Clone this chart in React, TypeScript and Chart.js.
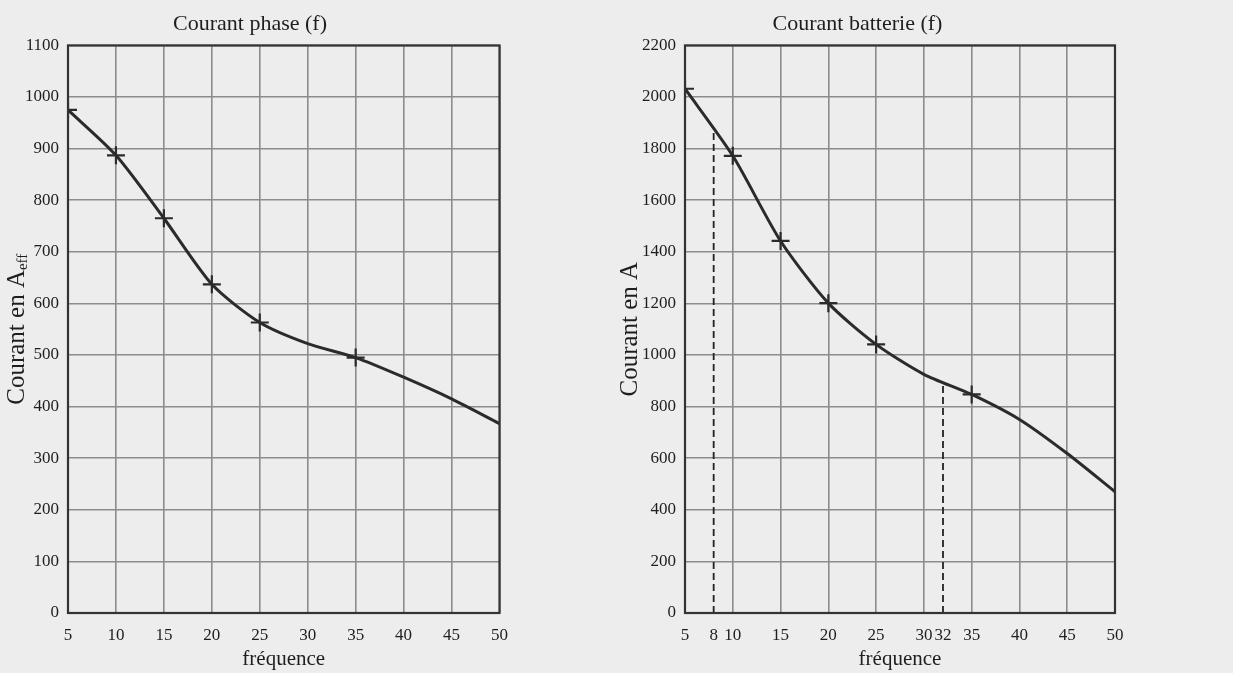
import React, { useEffect, useRef } from "react";
import { Chart, registerables } from "chart.js";
Chart.register(...registerables);

const freqs = [5, 10, 15, 20, 25, 30, 35, 40, 45, 50];
const phaseCurrent = [975, 887, 765, 637, 563, 522, 495, 457, 415, 367];
const batteryCurrent = [2032, 1772, 1442, 1201, 1041, 925, 847, 750, 618, 470];
const markerFreqs = [5, 10, 15, 20, 25, 35];
const phaseYTicks = [0, 100, 200, 300, 400, 500, 600, 700, 800, 900, 1000, 1100];
const batteryYTicks = [0, 200, 400, 600, 800, 1000, 1200, 1400, 1600, 1800, 2000, 2200];
const phaseXTicks = [5, 10, 15, 20, 25, 30, 35, 40, 45, 50];
const batteryXTicks = [5, 8, 10, 15, 20, 25, 30, 32, 35, 40, 45, 50];
const dashFreqs = [8, 32];
const dashCurrents = [1870, 880];

const FONT = "'Liberation Serif', 'DejaVu Serif', serif";
const TEXT = "#1e1e1e";
const GRID = "#8c8c8c";
const LINE = "#2b2b2b";
const BG = "#ededed";

const boxPlugin = {
  id: "box",
  afterDatasetsDraw(chart: any) {
    const { ctx, chartArea: a } = chart;
    ctx.save();
    ctx.strokeStyle = "#333";
    ctx.lineWidth = 2.2;
    ctx.strokeRect(a.left, a.top, a.right - a.left, a.bottom - a.top);
    ctx.restore();
  },
};

const subTitlePlugin = {
  id: "subTitle",
  afterDraw(chart: any, _args: any, opts: any) {
    if (!opts || !opts.main) return;
    const { ctx, chartArea: a } = chart;
    ctx.save();
    const cy = (a.top + a.bottom) / 2;
    ctx.translate(opts.x, cy);
    ctx.rotate(-Math.PI / 2);
    ctx.fillStyle = TEXT;
    ctx.textBaseline = "middle";
    ctx.textAlign = "left";
    const mainFont = `25px ${FONT}`;
    const subFont = `15px ${FONT}`;
    ctx.font = mainFont;
    const w1 = ctx.measureText(opts.main).width;
    ctx.font = subFont;
    const w2 = ctx.measureText(opts.sub).width;
    const start = -(w1 + w2) / 2;
    ctx.font = mainFont;
    ctx.fillText(opts.main, start, 0);
    ctx.font = subFont;
    ctx.fillText(opts.sub, start + w1, 6);
    ctx.restore();
  },
};

function makeConfig(p: {
  title: string;
  values: number[];
  yMax: number;
  yTicks: number[];
  xTicks: number[];
  hiddenGrid: number[];
  yWidth: number;
  padRight: number;
  yTitle: any;
  subTitle: any;
  dashes: boolean;
}) {
  const datasets: any[] = [
    {
      data: freqs.map((f, i) => ({ x: f, y: p.values[i] })),
      borderColor: LINE,
      borderWidth: 3,
      tension: 0.25,
      pointStyle: "cross",
      pointRadius: (c: any) => (markerFreqs.includes(freqs[c.dataIndex]) ? 9 : 0),
      pointBorderColor: LINE,
      pointBorderWidth: 2.2,
      pointBackgroundColor: LINE,
      clip: 0,
    },
  ];
  if (p.dashes) {
    dashFreqs.forEach((f, i) => {
      datasets.push({
        data: [
          { x: f, y: 0 },
          { x: f, y: dashCurrents[i] },
        ],
        borderColor: "#222",
        borderWidth: 1.8,
        borderDash: [7, 4],
        pointRadius: 0,
        clip: 0,
      });
    });
  }
  return {
    type: "line",
    data: { datasets },
    options: {
      responsive: false,
      animation: false,
      layout: { padding: { left: 0, right: p.padRight, top: 0, bottom: 0 } },
      plugins: {
        legend: { display: false },
        tooltip: { enabled: false },
        title: {
          display: true,
          text: p.title,
          color: TEXT,
          font: { family: FONT, size: 22, weight: "normal" },
          padding: { top: 11, bottom: 8 },
        },
        subTitle: p.subTitle,
      },
      scales: {
        x: {
          type: "linear",
          min: 5,
          max: 50,
          afterBuildTicks: (s: any) => {
            s.ticks = p.xTicks.map((v) => ({ value: v }));
          },
          afterFit: (s: any) => {
            s.height = 60;
          },
          ticks: {
            autoSkip: false,
            maxRotation: 0,
            padding: 12,
            color: TEXT,
            font: { family: FONT, size: 17 },
            callback: (v: any) => String(v),
          },
          grid: {
            color: (c: any) =>
              c.tick && p.hiddenGrid.includes(c.tick.value) ? "rgba(0,0,0,0)" : GRID,
            lineWidth: 1.6,
            drawTicks: false,
          },
          border: { display: false },
          title: {
            display: true,
            text: "fréquence",
            color: TEXT,
            font: { family: FONT, size: 21 },
            padding: { top: 0, bottom: 1 },
          },
        },
        y: {
          min: 0,
          max: p.yMax,
          afterBuildTicks: (s: any) => {
            s.ticks = p.yTicks.map((v) => ({ value: v }));
          },
          afterFit: (s: any) => {
            s.width = p.yWidth;
          },
          ticks: {
            padding: 9,
            color: TEXT,
            font: { family: FONT, size: 17 },
            callback: (v: any) => String(v),
          },
          grid: { color: GRID, lineWidth: 1.6, drawTicks: false },
          border: { display: false },
          title: p.yTitle,
        },
      },
    },
    plugins: [boxPlugin, subTitlePlugin],
  };
}

function ChartCanvas(props: { cfg: any; left: number; width: number }) {
  const ref = useRef<HTMLCanvasElement | null>(null);
  useEffect(() => {
    if (!ref.current) return;
    const chart = new Chart(ref.current, props.cfg);
    return () => chart.destroy();
  }, []);
  return (
    <canvas
      ref={ref}
      width={props.width}
      height={673}
      style={{ position: "absolute", left: props.left, top: 0, width: props.width, height: 673 }}
    />
  );
}

export default function App() {
  const phaseCfg = makeConfig({
    title: "Courant phase (f)",
    values: phaseCurrent,
    yMax: 1100,
    yTicks: phaseYTicks,
    xTicks: phaseXTicks,
    hiddenGrid: [],
    yWidth: 68,
    padRight: 20,
    yTitle: { display: false },
    subTitle: { main: "Courant en A", sub: "eff", x: 17 },
    dashes: false,
  });
  const batteryCfg = makeConfig({
    title: "Courant batterie (f)",
    values: batteryCurrent,
    yMax: 2200,
    yTicks: batteryYTicks,
    xTicks: batteryXTicks,
    hiddenGrid: [8, 32],
    yWidth: 85,
    padRight: 118,
    yTitle: {
      display: true,
      text: "Courant en A",
      color: TEXT,
      font: { family: FONT, size: 25 },
      padding: { top: 15, bottom: 0 },
    },
    subTitle: {},
    dashes: true,
  });
  return (
    <div style={{ position: "fixed", left: 0, top: 0, width: 1233, height: 673, background: BG, overflow: "hidden" }}>
      <ChartCanvas cfg={phaseCfg} left={0} width={520} />
      <ChartCanvas cfg={batteryCfg} left={600} width={633} />
    </div>
  );
}
